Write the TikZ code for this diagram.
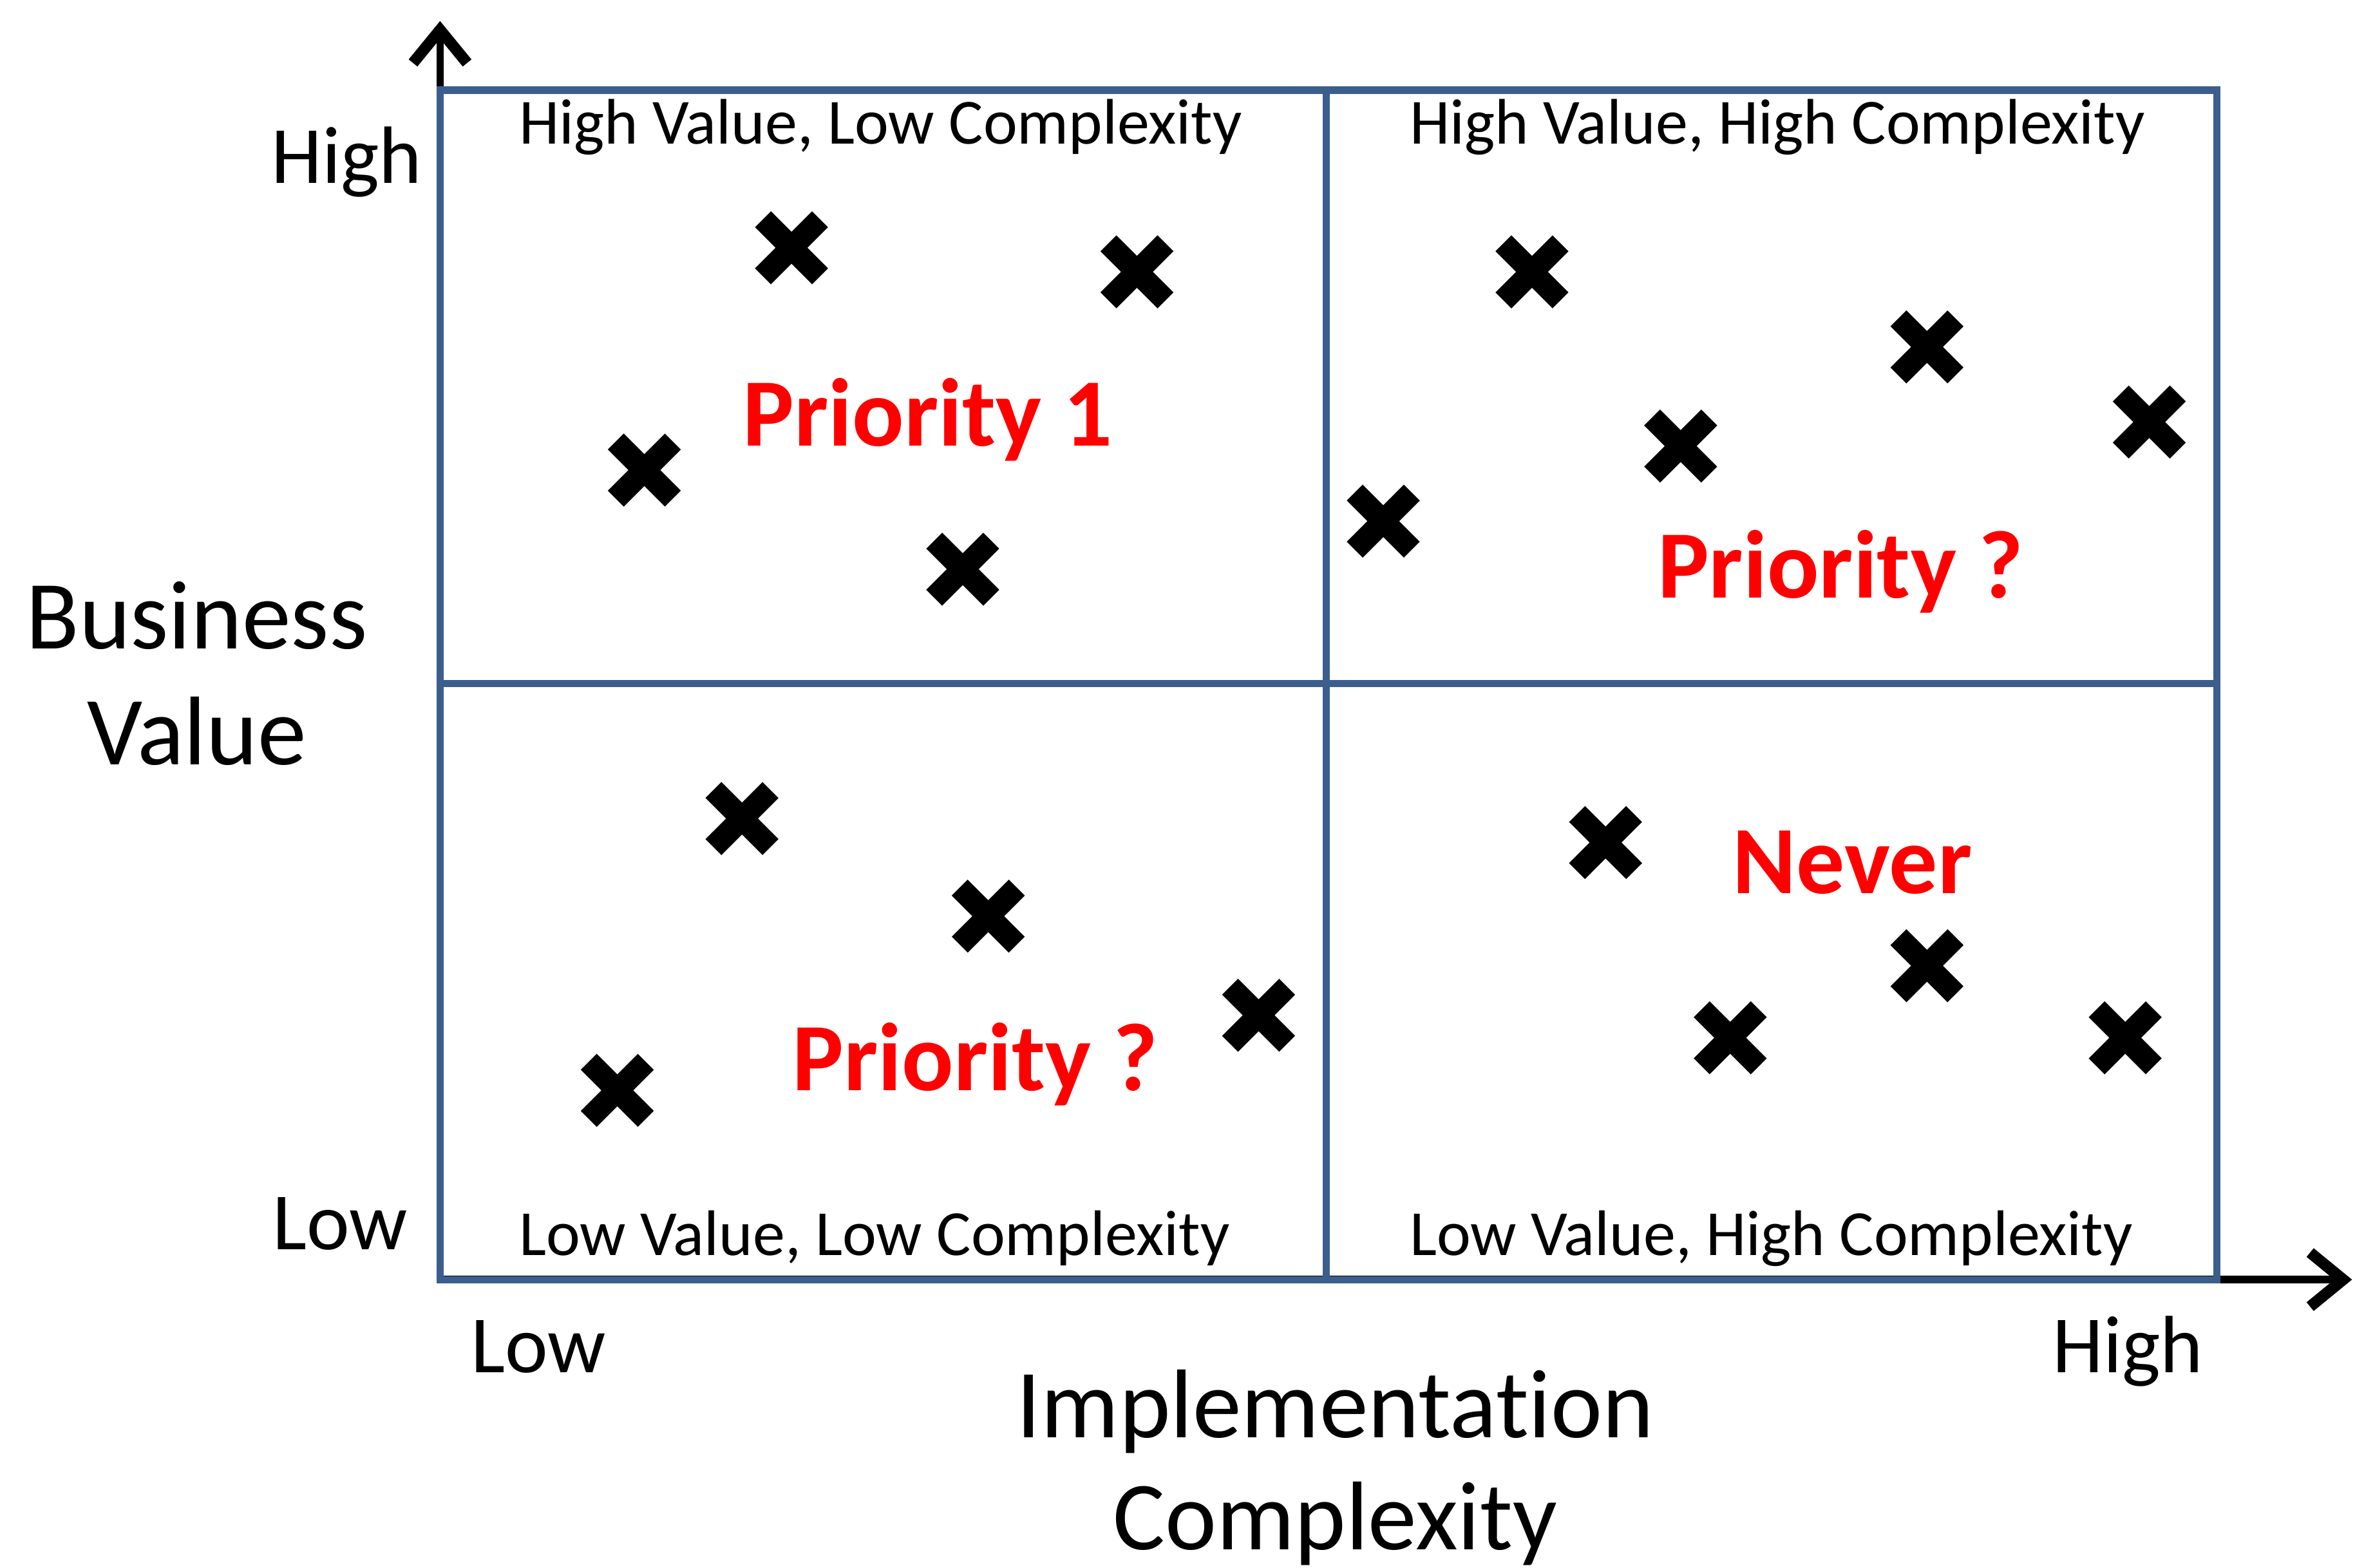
\documentclass[tikz,border=0pt]{standalone}
\usepackage{fontspec}
\setmainfont{Carlito}[Ligatures=NoCommon]
\usetikzlibrary{arrows.meta}
\definecolor{gridblue}{RGB}{60,94,140}
\definecolor{prio}{RGB}{255,0,0}
\tikzset{
  axisline/.style={line width=0.05cm, black,
    -{Straight Barb[length=0.22cm, width=0.36cm, line width=0.075cm]}},
  gridline/.style={line width=0.048cm, gridblue},
  ticklabel/.style={inner sep=0pt, anchor=base west, font=\fontsize{15.4pt}{18pt}\selectfont},
  axistitle/.style={inner sep=0pt, anchor=base, font=\fontsize{18.5pt}{22pt}\selectfont},
  quadlabel/.style={inner sep=0pt, anchor=base west, font=\fontsize{12.2pt}{14pt}\selectfont},
  priolabel/.style={inner sep=0pt, anchor=base west, text=prio, font=\fontsize{18.3pt}{22pt}\selectfont\bfseries},
  xmark/.pic={
    \draw[line width=0.15cm, line cap=butt] (-0.19,-0.19) -- (0.19,0.19) (-0.19,0.19) -- (0.19,-0.19);
  }
}
\begin{document}
\begin{tikzpicture}
\useasboundingbox (0,0) rectangle (15.68,10.44);

% corners of the grid and ends of the axes
\coordinate (O)    at (2.93,1.92);
\coordinate (ytip) at (2.93,10.30);
\coordinate (xtip) at (15.66,1.92);
\coordinate (NE)   at (14.76,9.84);
\coordinate (midx) at (8.83,0);
\coordinate (midy) at (0,5.89);

% axes
\draw[axisline] (O) -- (ytip);
\draw[axisline] (O) -- (xtip);

% quadrant grid
\draw[gridline] (O) rectangle (NE);
\draw[gridline] (O -| midx) -- (NE -| midx);
\draw[gridline] (O |- midy) -- (NE |- midy);

% axis ticks and titles
\node[ticklabel] (yhigh) at (1.80,9.22) {High};
\node[ticklabel] (ylow)  at (1.81,2.12) {Low};
\node[ticklabel] (xlow)  at (3.13,1.30) {Low};
\node[ticklabel] (xhigh) at (13.66,1.30) {High};
\node[axistitle] (bv1) at (1.31,6.12) {Business};
\node[axistitle] (bv2) at (1.31,5.35) {Value};
\node[axistitle] (ic1) at (8.89,0.87) {Implementation};
\node[axistitle] (ic2) at (8.89,0.12) {Complexity};

% quadrant captions
\node[quadlabel] (qtl) at (3.45,9.48) {High Value, Low Complexity};
\node[quadlabel] (qtr) at (9.38,9.48) {High Value, High Complexity};
\node[quadlabel] (qbl) at (3.45,2.08) {Low Value, Low Complexity};
\node[quadlabel] (qbr) at (9.38,2.08) {Low Value, High Complexity};

% priorities
\node[priolabel] (p1)  at (4.94,7.47) {Priority 1};
\node[priolabel] (p2)  at (11.03,6.46) {Priority ?};
\node[priolabel] (nev) at (11.53,4.49) {Never};
\node[priolabel] (p3)  at (5.27,3.18) {Priority ?};

% items, top left
\pic at (5.27,8.79) {xmark};
\pic at (7.57,8.63) {xmark};
\pic at (4.29,7.31) {xmark};
\pic at (6.41,6.65) {xmark};
% items, top right
\pic at (10.20,8.63) {xmark};
\pic at (12.83,8.13) {xmark};
\pic at (11.19,7.47) {xmark};
\pic at (14.31,7.63) {xmark};
\pic at (9.21,6.97) {xmark};
% items, bottom left
\pic at (4.94,4.99) {xmark};
\pic at (6.58,4.34) {xmark};
\pic at (8.38,3.68) {xmark};
\pic at (4.11,3.18) {xmark};
% items, bottom right
\pic at (10.69,4.83) {xmark};
\pic at (12.83,4.01) {xmark};
\pic at (11.52,3.53) {xmark};
\pic at (14.15,3.53) {xmark};
\end{tikzpicture}
\end{document}
